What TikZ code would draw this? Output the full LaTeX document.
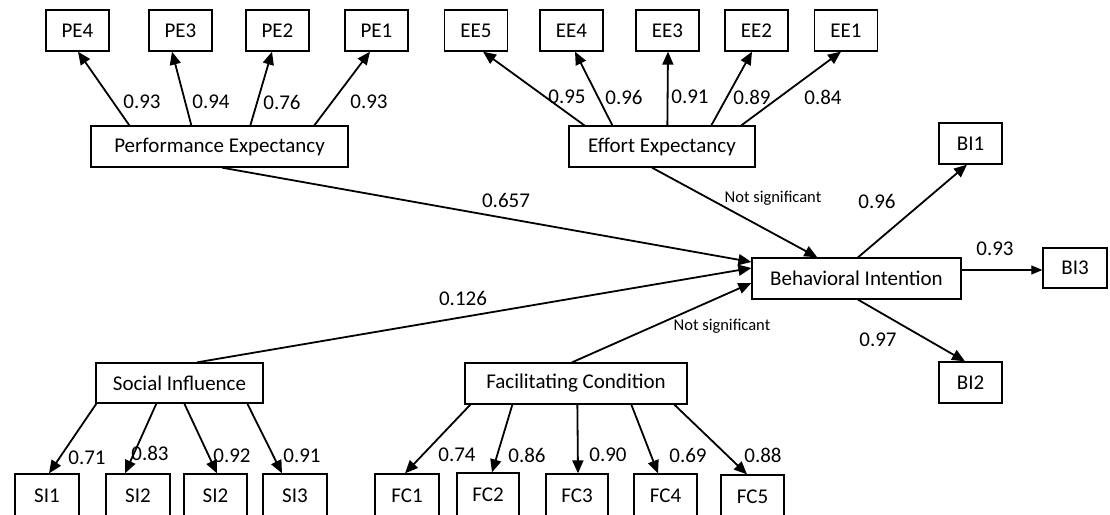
\documentclass[tikz,border=0pt]{standalone}
\usepackage{fontspec}
\setmainfont{Carlito}
\usetikzlibrary{arrows.meta,calc}
\begin{document}
\begin{tikzpicture}[x=1pt,y=-1pt,
  box/.style={draw,line width=1.3pt,inner sep=0pt,font=\fontsize{21}{25}\selectfont},
  ind/.style={box,minimum width=63pt,minimum height=41pt},
  indb/.style={box,minimum width=63pt,minimum height=44pt},
  arr/.style={line width=1.8pt,-{Triangle[length=13pt,width=11pt]}},
  lab/.style={inner sep=0pt,font=\fontsize{21}{25}\selectfont},
  slab/.style={inner sep=0pt,font=\fontsize{16.5}{19}\selectfont}]
\useasboundingbox (0,0) rectangle (1110,514);
\clip (0,0) rectangle (1110,514);
\fill[white] (0,0) rectangle (1110,514);
% constructs
\node[box,minimum width=257pt,minimum height=41pt] (pe) at (219.5,146.5) {Performance Expectancy};
\node[box,minimum width=186pt,minimum height=41pt] (ee) at (662,146.5) {Effort Expectancy};
\node[box,minimum width=209pt,minimum height=41pt] (bi) at (856.5,278.5) {Behavioral Intention};
\node[box,minimum width=167pt,minimum height=40pt] (si) at (179.5,383) {Social Influence};
\node[box,minimum width=222pt,minimum height=41pt] (fc) at (576,383.5) {Facilitating Condition};
% indicators
\node[ind] (pe4) at (77.5,30.5) {PE4};
\node[ind] (pe3) at (180.5,30.5) {PE3};
\node[ind] (pe2) at (277.5,30.5) {PE2};
\node[ind] (pe1) at (376.5,30.5) {PE1};
\node[ind] (ee5) at (476,30.5) {EE5};
\node[ind] (ee4) at (571.5,30.5) {EE4};
\node[ind] (ee3) at (667.5,30.5) {EE3};
\node[ind] (ee2) at (756.5,30.5) {EE2};
\node[ind] (ee1) at (846,30.5) {EE1};
\node[ind] (bi1) at (970.5,143.5) {BI1};
\node[ind,minimum width=64pt,minimum height=40pt] (bi3) at (1075,268) {BI3};
\node[ind] (bi2) at (970.5,382.5) {BI2};
\node[indb,minimum width=64pt] (si1) at (47,496) {SI1};
\node[indb,minimum width=64pt] (si2) at (138,496) {SI2};
\node[indb] (si2b) at (215.5,496) {SI2};
\node[indb,minimum width=64pt] (si3) at (295,496) {SI3};
\node[indb,minimum width=64pt] (fc1) at (407,496) {FC1};
\node[indb,minimum width=62pt] (fc2) at (488,495) {FC2};
\node[indb,minimum width=62pt] (fc3) at (577,496) {FC3};
\node[indb] (fc4) at (665.5,496) {FC4};
\node[indb] (fc5) at (752.5,497) {FC5};
% PE loadings
\draw[arr] ([xshift=39pt]pe.north west) -- ([xshift=0.5pt]pe4.south);
\draw[arr] ([xshift=101pt]pe.north west) -- ([xshift=-8.5pt]pe3.south);
\draw[arr] ([xshift=160pt]pe.north west) -- ([xshift=-5.5pt]pe2.south);
\draw[arr] ([xshift=224pt]pe.north west) -- ([xshift=-6.5pt]pe1.south);
\node[lab] at (142,102) {0.93};
\node[lab] at (211,102) {0.94};
\node[lab] at (282,102) {0.76};
\node[lab] at (369,102) {0.93};
% EE loadings
\draw[arr] ([xshift=16pt]ee.north west) -- ([xshift=7pt]ee5.south);
\draw[arr] ([xshift=44pt]ee.north west) -- ([xshift=3.5pt]ee4.south);
\draw[arr] ([xshift=99pt]ee.north west) -- ([xshift=0.5pt]ee3.south);
\draw[arr] ([xshift=143pt]ee.north west) -- ([xshift=-4.5pt]ee2.south);
\draw[arr] ([xshift=173pt]ee.north west) -- ([xshift=-5pt]ee1.south);
\node[lab] at (567,97) {0.95};
\node[lab] at (624,97) {0.96};
\node[lab] at (690,97) {0.91};
\node[lab] at (752,97) {0.89};
\node[lab] at (823,97) {0.84};
% BI loadings
\draw[arr] ([xshift=1.5pt]bi.north) -- ([xshift=-3.5pt]bi1.south);
\draw[line width=1.1pt,-{Triangle[length=11pt,width=9pt]}] ([yshift=8.5pt]bi.east) -- ([yshift=-2pt]bi3.west);
\draw[arr] ([xshift=1.5pt]bi.south) -- ([xshift=-5.5pt]bi2.north);
\node[lab] at (877,201) {0.96};
\node[lab] at (995,249) {0.93};
\node[lab] at (878,340) {0.97};
% structural paths
\draw[arr] ([xshift=2.5pt]pe.south) -- ([yshift=16.5pt]bi.west);
\draw[arr] ([xshift=-10pt]ee.south) -- ([xshift=66pt]bi.north west);
\draw[arr] ([xshift=17.5pt]si.north) -- ([yshift=10.5pt]bi.west);
\draw[arr] ([xshift=-4pt]fc.north) -- ([yshift=-4.5pt]bi.west);
\node[lab] at (506,200) {0.657};
\node[lab] at (463,298) {0.126};
\node[slab] at (773,198) {Not significant};
\node[slab] at (722,326) {Not significant};
% SI loadings
\draw[arr] ([xshift=1pt]si.south west) -- ([xshift=2pt]si1.north);
\draw[arr] ([xshift=61pt]si.south west) -- ([xshift=-13pt]si2.north);
\draw[arr] ([xshift=89pt]si.south west) -- ([xshift=1.5pt]si2b.north);
\draw[arr] ([xshift=152pt]si.south west) -- ([xshift=-13pt]si3.north);
\node[lab] at (87,458) {0.71};
\node[lab] at (150,453) {0.83};
\node[lab] at (232,456) {0.92};
\node[lab] at (302,456) {0.91};
% FC loadings
\draw[arr] ([xshift=6pt]fc.south west) -- ([xshift=-2pt]fc1.north);
\draw[arr] ([xshift=48pt]fc.south west) -- ([xshift=4pt]fc2.north);
\draw[arr] ([xshift=113pt]fc.south west) -- ([xshift=1pt]fc3.north);
\draw[arr] ([xshift=167pt]fc.south west) -- ([xshift=-7.5pt]fc4.north);
\draw[arr] ([xshift=210pt]fc.south west) -- ([xshift=-5.5pt]fc5.north);
\node[lab] at (457,455) {0.74};
\node[lab] at (527,455) {0.86};
\node[lab] at (608,455) {0.90};
\node[lab] at (688,455) {0.69};
\node[lab] at (763,455) {0.88};
\end{tikzpicture}
\end{document}
